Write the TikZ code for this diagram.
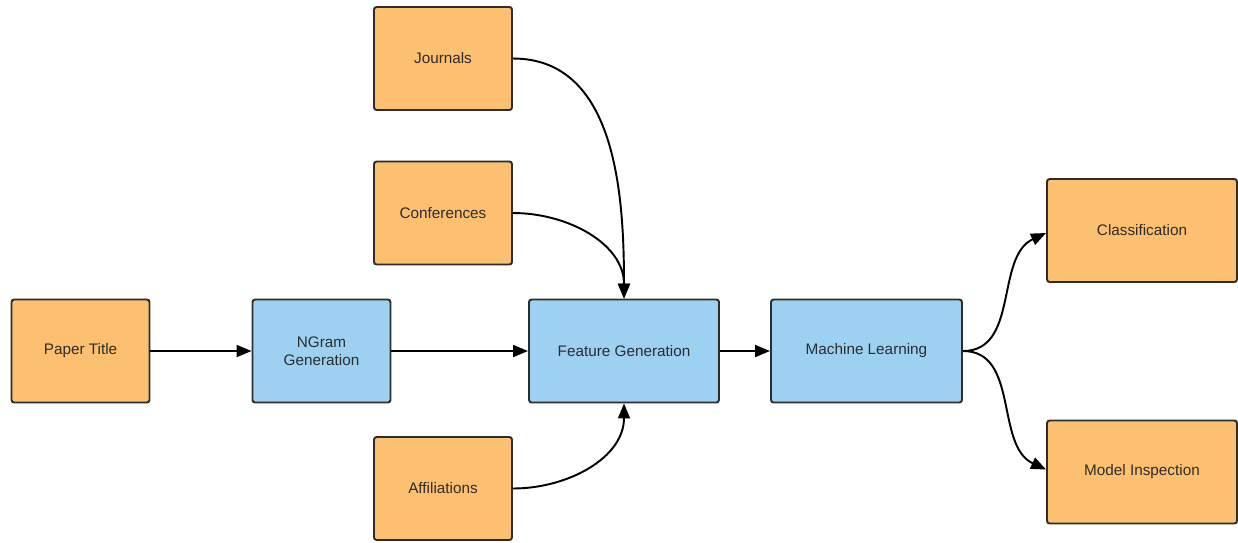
\documentclass[tikz,border=0pt]{standalone}
\usepackage{fontspec}
\setmainfont{Liberation Sans}
\usepackage{tikz}
\usetikzlibrary{shapes,arrows.meta}
\definecolor{boxorange}{RGB}{253,191,112}
\definecolor{boxblue}{RGB}{156,209,242}
\definecolor{boxline}{RGB}{45,45,45}
\tikzset{
  databox/.style={draw=boxline, line width=1.1pt, fill=boxorange, rounded corners=1.5pt,
    minimum width=2.76cm, minimum height=2.06cm, align=center, text=boxline,
    font=\fontsize{8.7}{10.5}\selectfont},
  stagebox/.style={databox, fill=boxblue},
  flow/.style={draw=black, line width=1.1pt, -{Triangle[length=3mm,width=2.4mm]}}
}

\begin{document}
\begin{tikzpicture}
   \useasboundingbox (0,0) rectangle (24.76,-10.84);
   % main line
   \node[databox] (title) at (1.61,-7.02) {Paper Title};
   \node[stagebox] (ngram) at (6.43,-7.02) {NGram\\Generation};
   \node[stagebox, minimum width=3.8cm] (feature) at (12.48,-7.02) {Feature Generation};
   \node[stagebox, minimum width=3.82cm] (learning) at (17.33,-7.02) {Machine Learning};
   % extra inputs
   \node[databox] (journals) at (8.86,-1.17) {Journals};
   \node[databox] (conf) at (8.86,-4.26) {Conferences};
   \node[databox] (affil) at (8.86,-9.77) {Affiliations};
   % outputs
   \node[databox, minimum width=3.8cm] (classif) at (22.84,-4.61) {Classification};
   \node[databox, minimum width=3.8cm] (inspect) at (22.84,-9.44) {Model Inspection};

   \draw[flow] (title) -- (ngram);
   \draw[flow] (ngram) -- (feature);
   \draw[flow] (feature) -- (learning);
   \draw[flow] (journals.east) to[out=0,in=90] (feature.north);
   \draw[flow] (conf.east) to[out=0,in=90] (feature.north);
   \draw[flow] (affil.east) to[out=0,in=-90] (feature.south);
   \draw[flow] (learning.east) to[out=0,in=205] ([yshift=-0.05cm]classif.west);
   \draw[flow] (learning.east) to[out=0,in=155] ([yshift=0.05cm]inspect.west);
\end{tikzpicture}
\end{document}
